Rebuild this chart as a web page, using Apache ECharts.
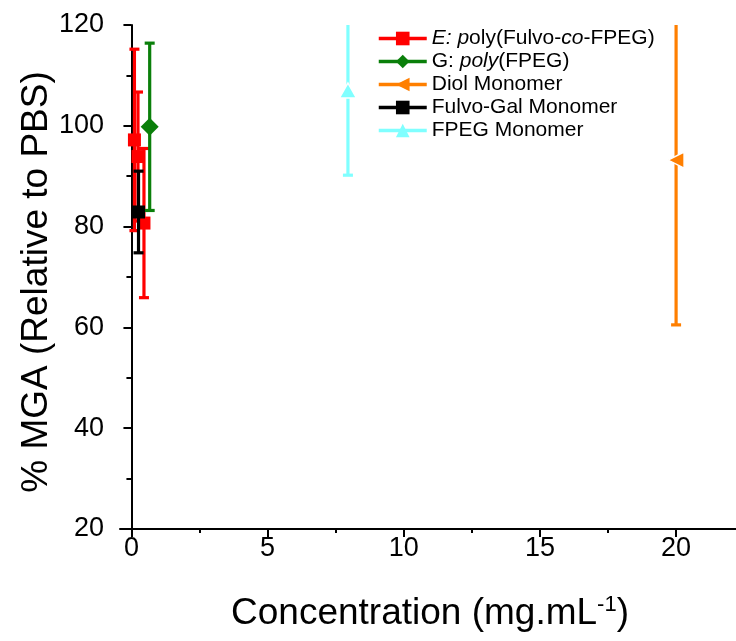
<!DOCTYPE html>
<html><head><meta charset="utf-8">
<script src="https://cdn.jsdelivr.net/npm/echarts@6/dist/echarts.min.js"></script>
<style>html,body{margin:0;padding:0;background:#fff}#c{width:736px;height:641px}</style>
</head><body><div id="c"></div>
<script>
// Series data: [x, y, error]
const seriesNames = ['E: poly(Fulvo-co-FPEG)', 'G: poly(FPEG)', 'Diol Monomer', 'Fulvo-Gal Monomer', 'FPEG Monomer'];
const redData = [[0.11, 97.2, 18.0], [0.24, 93.9, 12.8], [0.46, 80.7, 14.8]];
const greenData = [[0.67, 99.8, 16.6]];
const orangeData = [[20, 93.2, 32.7]];
const blackData = [[0.26, 82.9, 8.1]];
const cyanData = [[7.95, 107.0, 16.8]];
const xMajorTicks = [0, 5, 10, 15, 20];
const xMinorTicks = [2.5, 7.5, 12.5, 17.5];

const colors = ['#ff0000', '#0a7f0a', '#ff7f00', '#000000', '#80ffff'];
const symbols = ['rect', 'diamond', 'triangle', 'rect', 'triangle'];
const symbolSizes = [[13, 13], [18, 18], [16, 16], [13, 13], [17, 15]];
const symbolRotates = [0, 0, 90, 0, 0];
const borderWidths = [0, 0, 1.5, 0, 1.5];
const datasets = [redData, greenData, orangeData, blackData, cyanData];

const FONT = 'Liberation Sans, Arial, sans-serif';

function errRender(color) {
  return function (params, api) {
    const x = api.value(0), lo = api.value(1), hi = api.value(2);
    const pLo = api.coord([x, lo]);
    const pHi = api.coord([x, hi]);
    const hw = 5;
    const style = { stroke: color, lineWidth: 3.2 };
    return {
      type: 'group',
      children: [
        { type: 'line', shape: { x1: pLo[0], y1: pLo[1], x2: pHi[0], y2: pHi[1] }, style },
        { type: 'line', shape: { x1: pLo[0] - hw, y1: pLo[1], x2: pLo[0] + hw, y2: pLo[1] }, style },
        { type: 'line', shape: { x1: pHi[0] - hw, y1: pHi[1], x2: pHi[0] + hw, y2: pHi[1] }, style }
      ]
    };
  };
}

const series = [];
datasets.forEach((d, i) => {
  series.push({
    name: seriesNames[i],
    type: 'line',
    xAxisIndex: 0, yAxisIndex: 0,
    data: d.map(p => [p[0], p[1]]),
    symbol: symbols[i],
    symbolSize: symbolSizes[i],
    symbolRotate: symbolRotates[i],
    itemStyle: { color: colors[i], borderColor: '#fff', borderWidth: borderWidths[i] },
    lineStyle: { width: 0, opacity: 0 },
    clip: true,
    z: 3 + i * 2
  });
});
datasets.forEach((d, i) => {
  series.push({
    name: seriesNames[i],
    type: 'custom',
    xAxisIndex: 0, yAxisIndex: 0,
    clip: true,
    renderItem: errRender(colors[i]),
    data: d.map(p => [p[0], p[1] - p[2], p[1] + p[2]]),
    encode: { x: 0, y: [1, 2] },
    z: 2 + i * 2
  });
});

const legendLabels = [
  '{i|E: p}oly(Fulvo-{i|co}-FPEG)',
  'G: {i|poly}(FPEG)',
  'Diol Monomer',
  'Fulvo-Gal Monomer',
  'FPEG Monomer'
];

const option = {
  animation: false,
  backgroundColor: '#fff',
  grid: { left: 120, right: 0, top: 25, bottom: 112 },
  legend: {
    orient: 'vertical',
    left: 377, top: 28, padding: 0,
    itemWidth: 48, itemHeight: 17,
    itemGap: 2,
    data: seriesNames.map((n, i) => ({
      name: n,
      itemStyle: { color: colors[i], borderWidth: 0 },
      lineStyle: { color: colors[i], width: 3.5, opacity: 1 }
    })),
    formatter: function (name) { return legendLabels[seriesNames.indexOf(name)]; },
    textStyle: {
      fontFamily: FONT, fontSize: 21, lineHeight: 21, color: '#000',
      rich: { i: { fontFamily: FONT, fontSize: 21, lineHeight: 21, fontStyle: 'italic', color: '#000' } }
    }
  },
  xAxis: [{
    type: 'value', min: -0.42, max: 22.2,
    name: '{a|Concentration (mg.mL}{s|-1}{a|)}',
    nameLocation: 'middle', nameGap: 65, nameMoveOverlap: false,
    nameTextStyle: { padding: [0, 0, 0, 4], rich: { a: { fontFamily: FONT, fontSize: 37, color: '#000' }, s: { fontFamily: FONT, fontSize: 22, color: '#000', padding: [0, 0, 18, 0] } } },
    axisLine: { show: true, lineStyle: { color: '#000', width: 2 } },
    axisTick: { show: true, length: 8, customValues: xMajorTicks, lineStyle: { color: '#000', width: 2 } },
    axisLabel: { customValues: xMajorTicks, fontFamily: FONT, fontSize: 27, color: '#000', margin: 6 },
    splitLine: { show: false }
  }, {
    type: 'value', min: -0.42, max: 22.2, position: 'bottom',
    axisLine: { show: false },
    axisTick: { show: true, length: 4, customValues: xMinorTicks, lineStyle: { color: '#000', width: 2 } },
    axisLabel: { show: false, customValues: xMinorTicks },
    splitLine: { show: false }
  }],
  yAxis: [{
    type: 'value', min: 20, max: 120, interval: 20,
    name: '% MGA (Relative to PBS)',
    nameLocation: 'middle', nameGap: 65, nameMoveOverlap: false,
    nameTextStyle: { fontFamily: FONT, fontSize: 37, color: '#000', padding: [0, 10, 0, 0] },
    axisLine: { show: true, lineStyle: { color: '#000', width: 2 } },
    axisTick: { show: true, length: 8, lineStyle: { color: '#000', width: 2 } },
    minorTick: { show: true, splitNumber: 2, length: 5, lineStyle: { color: '#000', width: 2 } },
    axisLabel: { fontFamily: FONT, fontSize: 27, color: '#000', margin: 16 },
    splitLine: { show: false }
  }],
  series: series
};

const chart = echarts.init(document.getElementById('c'), null, { renderer: 'canvas' });
chart.setOption(option);
</script>
</body></html>
